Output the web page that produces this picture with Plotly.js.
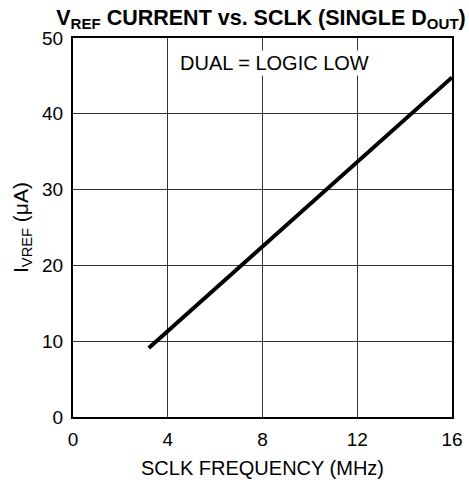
<!DOCTYPE html>
<html><head><meta charset="utf-8">
<script src="https://cdn.plot.ly/plotly-3.0.1.min.js"></script>
<style>html,body{margin:0;padding:0;background:#fff}</style>
</head><body>
<div id="chart" style="width:469px;height:485px"></div>
<script>
const sclkMHz = [3.2, 16];
const ivrefUA = [9.1, 44.8];
const xTicks = [0, 4, 8, 12, 16];
const yTicks = [0, 10, 20, 30, 40, 50];

const font = 'Liberation Sans, Arial, sans-serif';
Plotly.newPlot('chart', [{
  x: sclkMHz, y: ivrefUA, mode: 'lines', type: 'scatter',
  line: {color: '#000', width: 4}, hoverinfo: 'skip'
}], {
  width: 469, height: 485,
  margin: {l: 73, r: 17, t: 38, b: 68},
  paper_bgcolor: '#fff', plot_bgcolor: '#fff',
  showlegend: false,
  font: {family: font, size: 20, color: '#000'},
  title: {text: '<b>V<sub>REF</sub> CURRENT vs. SCLK (SINGLE D<sub>OUT</sub>)</b>',
    font: {family: font, size: 21.5, color: '#000'}, x: 261/469, xanchor: 'center', y: 0.965, yanchor: 'middle'},
  xaxis: {range: [0, 16], tickvals: xTicks, ticktext: xTicks.map(String), ticks: '', showgrid: true,
    gridcolor: '#333', gridwidth: 1, zeroline: false, showline: true, linecolor: '#000', linewidth: 2, mirror: true,
    tickfont: {size: 19}, ticklabelstandoff: 4,
    title: {text: 'SCLK FREQUENCY (MHz)', font: {size: 20}, standoff: 12}, fixedrange: true},
  yaxis: {range: [0, 50], tickvals: yTicks, ticktext: yTicks.map(String), ticks: '', showgrid: true,
    gridcolor: '#333', gridwidth: 1, zeroline: false, showline: true, linecolor: '#000', linewidth: 2, mirror: true,
    tickfont: {size: 19}, ticklabelstandoff: 4,
    title: {text: 'I<sub>VREF</sub> (μA)', font: {size: 21}, standoff: 8}, fixedrange: true},
  annotations: [{
    x: 8.52, y: 46.7, xref: 'x', yref: 'y', text: 'DUAL = LOGIC LOW', showarrow: false,
    font: {family: font, size: 20, color: '#000'}, bgcolor: '#fff', borderpad: 1
  }]
}, {staticPlot: true, displayModeBar: false});
</script>
</body></html>
